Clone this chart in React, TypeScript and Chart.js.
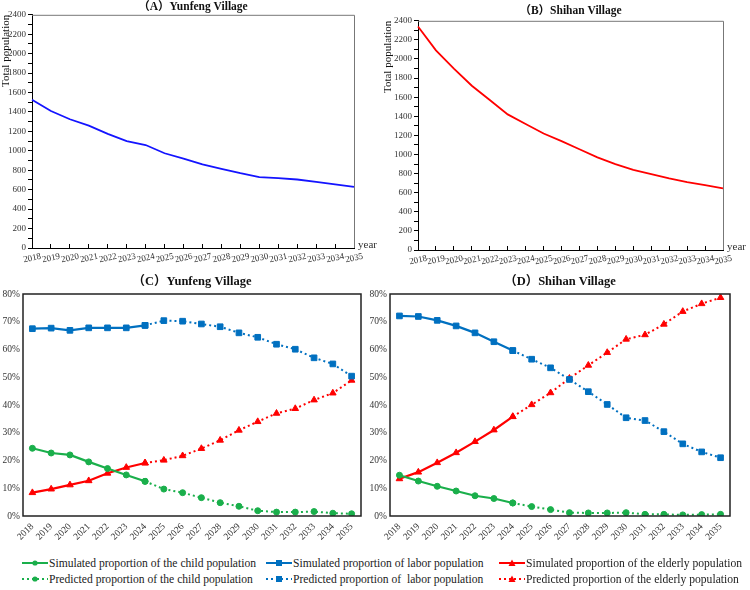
import React, { useEffect, useRef } from 'react';
import { Chart, registerables } from 'chart.js';

Chart.register(...registerables);

const FONT = "'Liberation Serif', 'Noto Sans CJK SC', serif";

const years = ['2018','2019','2020','2021','2022','2023','2024','2025','2026','2027','2028','2029','2030','2031','2032','2033','2034','2035'];

// Total population
const yunfengTotal = [1525, 1410, 1325, 1260, 1175, 1100, 1060, 975, 920, 860, 815, 770, 730, 720, 705, 680, 655, 630];
const shihanTotal = [2340, 2090, 1900, 1720, 1570, 1420, 1320, 1220, 1140, 1055, 970, 900, 840, 795, 750, 710, 680, 645];

// Proportions (%) — Yunfeng
const yunfengChild = [24.4, 22.7, 22.0, 19.5, 17.1, 14.8, 12.5, 9.7, 8.4, 6.6, 4.8, 3.5, 1.9, 1.4, 1.4, 1.6, 1.0, 0.8];
const yunfengLabor = [67.5, 67.7, 66.9, 67.8, 67.8, 67.8, 68.7, 70.4, 70.2, 69.2, 68.2, 66.0, 64.4, 61.9, 60.1, 57.0, 54.8, 50.4];
const yunfengElderly = [8.4, 9.7, 11.2, 12.7, 15.4, 17.5, 19.1, 20.1, 21.7, 24.3, 27.3, 30.9, 34.0, 37.0, 38.7, 41.8, 44.3, 48.9];

// Proportions (%) — Shihan
const shihanChild = [14.7, 12.6, 10.7, 9.0, 7.3, 6.3, 4.7, 3.4, 2.3, 1.2, 1.1, 1.1, 1.2, 0.6, 0.6, 0.4, 0.5, 0.6];
const shihanLabor = [72.1, 71.9, 70.5, 68.5, 66.0, 62.8, 59.6, 56.5, 53.4, 49.2, 44.8, 40.2, 35.4, 34.4, 30.4, 26.0, 23.1, 21.0];
const shihanElderly = [13.4, 15.8, 19.2, 22.8, 26.8, 31.0, 35.8, 40.1, 44.4, 49.6, 54.3, 58.9, 63.7, 65.3, 69.1, 73.7, 76.5, 78.7];

const populationTicks = [0, 200, 400, 600, 800, 1000, 1200, 1400, 1600, 1800, 2000, 2200, 2400];

const SIM_LAST = years.indexOf('2024');

const GREEN = '#1aaf4b';
const BLUE = '#0070c0';
const RED = '#ff0000';
const LINE_BLUE = '#1414ff';

const framePlugin = {
  id: 'frame',
  afterDraw(chart: any, _args: any, opts: any) {
    if (!opts || !opts.mode) return;
    const { ctx, chartArea } = chart;
    const { left, right, top, bottom } = chartArea;
    ctx.save();
    ctx.strokeStyle = opts.color;
    ctx.lineWidth = opts.width;
    ctx.beginPath();
    if (opts.mode === 'topRight') {
      ctx.moveTo(left, top + 0.5);
      ctx.lineTo(right + 0.5, top + 0.5);
      ctx.lineTo(right + 0.5, bottom);
    } else {
      ctx.rect(left, top, right - left, bottom - top);
    }
    ctx.stroke();
    if (opts.unit) {
      ctx.fillStyle = '#333';
      ctx.font = `11px ${FONT}`;
      ctx.textAlign = 'left';
      ctx.textBaseline = 'middle';
      ctx.fillText(opts.unit, right + 4, bottom - 3);
    }
    ctx.restore();
  },
};

function totalConfig(title: string, data: number[], color: string, padLeft: number, padRight: number, yWidth: number, titlePad: { top: number; bottom: number }, xHeight: number) {
  return {
    type: 'line',
    data: {
      labels: years,
      datasets: [
        {
          data,
          borderColor: color,
          borderWidth: 1.8,
          pointRadius: 0,
          tension: 0,
          fill: false,
        },
      ],
    },
    options: {
      responsive: false,
      animation: false,
      layout: { padding: { left: padLeft, right: padRight, top: 0, bottom: 0 } },
      plugins: {
        legend: { display: false },
        tooltip: { enabled: false },
        title: {
          display: true,
          text: title,
          fullSize: false,
          color: '#111',
          font: { family: FONT, size: 11.5, weight: 'bold' },
          padding: titlePad,
        },
        frame: { mode: 'topRight', color: '#777', width: 1, unit: 'year' },
      },
      scales: {
        x: {
          type: 'category',
          offset: false,
          afterFit(s: any) { s.height = xHeight; },
          grid: { drawOnChartArea: false, drawTicks: true, tickLength: -4, color: '#000' },
          border: { color: '#000', width: 1 },
          ticks: {
            autoSkip: false,
            minRotation: 12,
            maxRotation: 12,
            labelOffset: 9,
            padding: 7,
            color: '#333',
            font: { family: FONT, size: 9 },
          },
        },
        y: {
          min: 0,
          max: 2400,
          afterFit(s: any) { s.width = yWidth; },
          afterBuildTicks(s: any) {
            const t = [];
            for (let v = 0; v <= 2400; v += 100) t.push({ value: v });
            s.ticks = t;
          },
          grid: { drawOnChartArea: false, tickLength: 4, color: '#000' },
          border: { color: '#000', width: 1 },
          title: {
            display: true,
            text: 'Total population',
            align: 'end',
            color: '#111',
            padding: 0,
            font: { family: FONT, size: 11 },
          },
          ticks: {
            autoSkip: false,
            padding: 2,
            color: '#333',
            font: { family: FONT, size: 9 },
            callback: (v: number) => (populationTicks.includes(v) ? String(v) : ''),
          },
        },
      },
    },
    plugins: [framePlugin],
  };
}

function split(values: number[]) {
  const sim = values.map((v, i) => (i <= SIM_LAST ? v : null));
  const pred = values.map((v, i) => (i >= SIM_LAST ? v : null));
  return { sim, pred };
}

function seriesSets(values: number[], color: string, style: string, radius: number) {
  const { sim, pred } = split(values);
  const base = {
    borderColor: color,
    backgroundColor: color,
    pointBackgroundColor: color,
    pointBorderColor: color,
    pointStyle: style,
    pointRadius: radius,
    pointBorderWidth: 1,
    tension: 0,
    fill: false,
    spanGaps: false,
  };
  return [
    { ...base, data: pred, borderWidth: 2, borderDash: [2, 3] },
    { ...base, data: sim, borderWidth: 2.2 },
  ];
}

function proportionConfig(title: string, child: number[], labor: number[], elderly: number[], padRight: number, yWidth: number, xHeight: number) {
  return {
    type: 'line',
    data: {
      labels: years,
      datasets: [
        ...seriesSets(child, GREEN, 'circle', 3),
        ...seriesSets(labor, BLUE, 'rect', 4),
        ...seriesSets(elderly, RED, 'triangle', 3.8),
      ],
    },
    options: {
      responsive: false,
      animation: false,
      layout: { padding: { left: 0, right: padRight, top: 0, bottom: 0 } },
      plugins: {
        legend: { display: false },
        tooltip: { enabled: false },
        title: {
          display: true,
          text: title,
          fullSize: false,
          color: '#111',
          font: { family: FONT, size: 12.5, weight: 'bold' },
          padding: { top: 4, bottom: 5 },
        },
        frame: { mode: 'box', color: '#222', width: 1.5 },
      },
      scales: {
        x: {
          type: 'category',
          offset: true,
          afterFit(s: any) { s.height = xHeight; },
          grid: { display: false, drawTicks: false },
          border: { display: false },
          ticks: {
            autoSkip: false,
            minRotation: 45,
            maxRotation: 45,
            padding: 5,
            color: '#333',
            font: { family: FONT, size: 9.5 },
          },
        },
        y: {
          min: 0,
          max: 80,
          afterFit(s: any) { s.width = yWidth; },
          grid: { display: false, drawTicks: false },
          border: { display: false },
          ticks: {
            stepSize: 10,
            padding: 3,
            color: '#333',
            font: { family: FONT, size: 9.5 },
            callback: (v: number) => `${v}%`,
          },
        },
      },
    },
    plugins: [framePlugin],
  };
}

function ChartBox({ make, left, top, width, height }: { make: () => any; left: number; top: number; width: number; height: number }) {
  const ref = useRef<HTMLCanvasElement>(null);
  useEffect(() => {
    const chart = new Chart(ref.current as HTMLCanvasElement, make());
    return () => chart.destroy();
  }, []);
  return (
    <canvas
      ref={ref}
      width={width}
      height={height}
      style={{ position: 'absolute', left, top, width, height }}
    />
  );
}

const legendLabels = [
  ['Simulated proportion of the child population', 'Predicted proportion of the child population'],
  ['Simulated proportion of labor population', 'Predicted proportion of  labor population'],
  ['Simulated proportion of the elderly population', 'Predicted proportion of the elderly population'],
];
const legendColors = [GREEN, BLUE, RED];
const legendMarkers = ['circle', 'rect', 'triangle'];

function Marker({ kind, color }: { kind: string; color: string }) {
  if (kind === 'circle') return <circle cx={13} cy={5} r={2.6} fill={color} />;
  if (kind === 'rect') return <rect x={10} y={2} width={6} height={6} fill={color} />;
  return <polygon points="13,1.5 16.5,8 9.5,8" fill={color} />;
}

function Legend() {
  const cols = [22, 266, 499];
  const rows = [556, 572];
  const items: any[] = [];
  legendLabels.forEach((pair, c) => {
    pair.forEach((label, r) => {
      items.push(
        <div
          key={`${c}-${r}`}
          style={{
            position: 'absolute',
            left: cols[c],
            top: rows[r],
            height: 14,
            display: 'flex',
            alignItems: 'center',
            whiteSpace: 'pre',
            fontFamily: FONT,
            fontSize: 11.6,
            color: '#222',
          }}
        >
          <svg width={26} height={10} style={{ marginRight: 1 }}>
            <line
              x1={0}
              y1={5}
              x2={26}
              y2={5}
              stroke={legendColors[c]}
              strokeWidth={2}
              strokeDasharray={r === 1 ? '2 3' : undefined}
            />
            <Marker kind={legendMarkers[c]} color={legendColors[c]} />
          </svg>
          <span>{label}</span>
        </div>
      );
    });
  });
  return <>{items}</>;
}

export default function App() {
  return (
    <div style={{ position: 'absolute', left: 0, top: 0, width: 750, height: 590, background: '#fff', overflow: 'hidden' }}>
      <ChartBox
        left={0}
        top={0}
        width={380}
        height={268}
        make={() => totalConfig('（A）Yunfeng Village', yunfengTotal, LINE_BLUE, 0, 26, 32, { top: 0, bottom: 1 }, 20)}
      />
      <ChartBox
        left={370}
        top={0}
        width={380}
        height={270}
        make={() => totalConfig('（B）Shihan Village', shihanTotal, RED, 12, 27, 36, { top: 4, bottom: 3 }, 20)}
      />
      <ChartBox
        left={0}
        top={270}
        width={375}
        height={278}
        make={() => proportionConfig('（C）Yunfeng Village', yunfengChild, yunfengLabor, yunfengElderly, 14, 23, 32)}
      />
      <ChartBox
        left={362}
        top={270}
        width={375}
        height={278}
        make={() => proportionConfig('（D）Shihan Village', shihanChild, shihanLabor, shihanElderly, 7, 28, 32)}
      />
      <Legend />
    </div>
  );
}
